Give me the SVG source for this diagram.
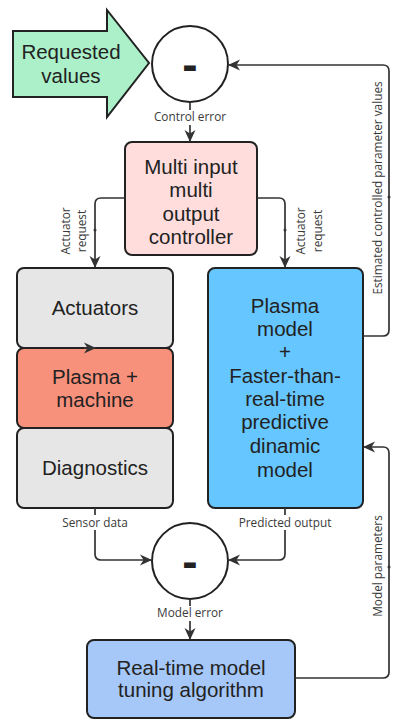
<svg xmlns="http://www.w3.org/2000/svg" width="400" height="727" viewBox="0 0 400 727">
<defs>
<style>
.node{stroke:#222;stroke-width:2}
.nt{font-family:"Liberation Sans",Arial,sans-serif;font-size:20.5px;fill:#222;text-anchor:middle}
.lbl{font-family:"Open Sans","Noto Sans",sans-serif;font-size:11.8px;fill:#3a3a3a;text-anchor:middle}
.minus{font-family:"Liberation Sans",Arial,sans-serif;font-size:46px;font-weight:bold;fill:#222;text-anchor:middle}
.con{fill:none;stroke:#333;stroke-width:1.7}
.dot{fill:#333}
</style>
<marker id="ah" viewBox="0 0 12 12" refX="11" refY="6" markerWidth="12" markerHeight="12" markerUnits="userSpaceOnUse" orient="auto">
<path d="M0,0.5 L12,6 L0,11.5 L3.5,6 Z" fill="#333"/>
</marker>
</defs>
<rect width="400" height="727" fill="#ffffff"/>

<g id="requested-values">
<path class="node" d="M13,31 L107,31 L107,10 L149,63 L107,117 L107,97 L13,97 Z" fill="#abf0c9"/>
<text class="nt" x="71" y="59" font-size="23.5">Requested</text>
<text class="nt" x="71" y="83" font-size="23.5">values</text>
</g>

<g id="sum-control">
<circle class="node" cx="190" cy="64" r="38" fill="#ffffff"/>
<text class="minus" x="190" y="80">-</text>
</g>

<g id="controller">
<rect class="node" x="125" y="142" width="132" height="113" rx="7" fill="#ffdddd"/>
<text class="nt" x="191" y="174" font-size="19.6">Multi input</text>
<text class="nt" x="191" y="197" font-size="19.6">multi</text>
<text class="nt" x="191" y="221" font-size="19.6">output</text>
<text class="nt" x="191" y="244" font-size="19.6">controller</text>
</g>

<g id="actuators">
<rect class="node" x="17" y="268" width="156" height="80" rx="7" fill="#e6e6e6"/>
<text class="nt" x="95" y="315">Actuators</text>
</g>

<g id="plasma-machine">
<rect class="node" x="17" y="348" width="156" height="80" rx="7" fill="#f8917c"/>
<text class="nt" x="95" y="384">Plasma +</text>
<text class="nt" x="95" y="407">machine</text>
</g>

<g id="diagnostics">
<rect class="node" x="17" y="428" width="156" height="80" rx="7" fill="#e6e6e6"/>
<text class="nt" x="95" y="475">Diagnostics</text>
</g>

<g id="plasma-model">
<rect class="node" x="208" y="268" width="155" height="240" rx="7" fill="#66c6ff"/>
<text class="nt" x="285" y="313">Plasma</text>
<text class="nt" x="285" y="336">model</text>
<text class="nt" x="285" y="359">+</text>
<text class="nt" x="285" y="383">Faster-than-</text>
<text class="nt" x="285" y="406">real-time</text>
<text class="nt" x="285" y="429">predictive</text>
<text class="nt" x="285" y="453">dinamic</text>
<text class="nt" x="285" y="477">model</text>
</g>

<g id="sum-model">
<circle class="node" cx="190" cy="561" r="38" fill="#ffffff"/>
<text class="minus" x="190" y="577">-</text>
</g>

<g id="tuning">
<rect class="node" x="87" y="640" width="208" height="78" rx="7" fill="#a6c8f8"/>
<text class="nt" x="191" y="675">Real-time model</text>
<text class="nt" x="191" y="697">tuning algorithm</text>
</g>

<g id="connectors">
<path class="con" d="M190,103 L190,141" marker-end="url(#ah)"/>
<path class="con" d="M125,198 L101,198 Q95,198 95,204 L95,267" marker-end="url(#ah)"/>
<path class="con" d="M257,198 L279,198 Q285,198 285,204 L285,267" marker-end="url(#ah)"/>
<path class="con" d="M84,348 L95,348" marker-end="url(#ah)"/>
<path class="con" d="M363,336 L383,336 Q389,336 389,330 L389,71 Q389,65 383,65 L229,65" marker-end="url(#ah)"/>
<path class="con" d="M95,508 L95,554 Q95,560 101,560 L151,560" marker-end="url(#ah)"/>
<path class="con" d="M285,508 L285,554 Q285,560 279,560 L229,560" marker-end="url(#ah)"/>
<path class="con" d="M190,599 L190,639" marker-end="url(#ah)"/>
<path class="con" d="M295,678 L383,678 Q389,678 389,672 L389,453 Q389,447 383,447 L364,447" marker-end="url(#ah)"/>
<circle class="dot" cx="95" cy="230" r="1.5"/>
<circle class="dot" cx="285" cy="230" r="1.5"/>
<circle class="dot" cx="389" cy="197" r="1.5"/>
<circle class="dot" cx="389" cy="567" r="1.5"/>
<rect x="148" y="110" width="84" height="15" fill="#ffffff"/>
<text class="lbl" x="190" y="121">Control error</text>
<rect x="58" y="515" width="74" height="15" fill="#ffffff"/>
<text class="lbl" x="95" y="527">Sensor data</text>
<rect x="233" y="515" width="104" height="15" fill="#ffffff"/>
<text class="lbl" x="285" y="527">Predicted output</text>
<rect x="150" y="606" width="80" height="15" fill="#ffffff"/>
<text class="lbl" x="190" y="617">Model error</text>
<text class="lbl" transform="translate(70,231) rotate(-90)" y="-0.5">Actuator</text>
<text class="lbl" transform="translate(70,231) rotate(-90)" y="16">request</text>
<text class="lbl" transform="translate(305,231) rotate(-90)" y="-0.5">Actuator</text>
<text class="lbl" transform="translate(305,231) rotate(-90)" y="16.5">request</text>
<text class="lbl" transform="translate(382,188) rotate(-90)">Estimated controlled parameter values</text>
<text class="lbl" transform="translate(382,566) rotate(-90)">Model parameters</text>
</g>
</svg>
